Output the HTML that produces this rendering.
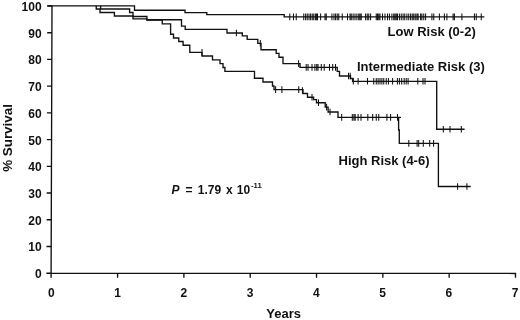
<!DOCTYPE html>
<html><head><meta charset="utf-8">
<style>
html,body{margin:0;padding:0;background:#fff;}
body{width:520px;height:320px;overflow:hidden;}
svg{display:block;will-change:transform;}
text{font-family:"Liberation Sans",sans-serif;font-weight:bold;font-size:12px;fill:#111;}
.t{font-size:13px;}
</style></head><body>
<svg width="520" height="320" viewBox="0 0 520 320">
<rect width="520" height="320" fill="#fff"/>
<g fill="none" stroke="#111" stroke-width="1.35">
<path d="M52,5.2L51.08,277.7M51.1,273.25L516.1,273.45"/>
<path d="M47.30,6.00H52.00 M47.21,32.72H51.91 M47.12,59.44H51.82 M47.03,86.16H51.73 M46.94,112.88H51.64 M46.85,139.60H51.55 M46.76,166.32H51.46 M46.67,193.04H51.37 M46.58,219.76H51.28 M46.49,246.48H51.19 M46.40,273.20H51.10"/>
<path d="M117.57,273.3V277.7 M183.89,273.3V277.7 M250.21,273.3V277.7 M316.53,273.3V277.7 M382.85,273.3V277.7 M449.17,273.3V277.7 M515.49,273.3V277.7"/>
<path d="M47.3,5.8 H134.5 V10.2 H185 V12.6 H206.8 V14.6 H284.2 V16.9 H484.4"/>
<path d="M100.6,5.8 V9 H129.6 V12.5 H133 V16.5 H146.9 V19.7 H181.5 V26.1 H185.2 V29.3 H227 V33 H242.3 V35.9 H247.2 V39.4 H257.8 V43.3 H261 V49.7 H276.2 V53.4 H279 V57.2 H283 V63.6 H300 V67.4 H337.2 V71.3 H339.5 V76 H350.5 V78.5 H352.6 V81.3 H436.7 V129.2 H464.6"/>
<path d="M96.25,5.8 V9 H100 V12.5 H114.4 V16 H133 V18.8 H146.9 V20.1 H162.25 V23.9 H170.6 V34.25 H173.5 V38 H178.75 V41.5 H183.1 V45.25 H189.8 V52.4 H202 V56 H212.5 V59.8 H220 V63.6 H223 V67.5 H224.9 V71.4 H254.5 V78.2 H263 V82 H272.5 V86 H274 V89.6 H303 V93.5 H307.5 V97.2 H313.6 V99.6 H316.5 V102.7 H325.2 V107.1 H328.1 V112 H338 V117.4 H398.6 V130 H399.3 V143.4 H438.4 V186.5 H470.7 M398.6,117.4 H401"/>
</g>
<g fill="none" stroke="#111" stroke-width="1.05">
<path d="M289.75,13.60V20.20 M293.50,13.60V20.20 M296.25,13.60V20.20 M303.75,13.60V20.20 M305.60,13.60V20.20 M307.25,13.60V20.20 M309.00,13.60V20.20 M310.60,13.60V20.20 M312.25,13.60V20.20 M313.75,13.60V20.20 M315.40,13.60V20.20 M316.60,13.60V20.20 M317.50,13.60V20.20 M320.60,13.60V20.20 M325.00,13.60V20.20 M326.25,13.60V20.20 M331.90,13.60V20.20 M334.00,13.60V20.20 M335.60,13.60V20.20 M337.25,13.60V20.20 M338.75,13.60V20.20 M342.25,13.60V20.20 M347.50,13.60V20.20 M350.00,13.60V20.20 M351.25,13.60V20.20 M353.10,13.60V20.20 M355.00,13.60V20.20 M356.90,13.60V20.20 M358.75,13.60V20.20 M360.00,13.60V20.20 M361.25,13.60V20.20 M365.60,13.60V20.20 M367.25,13.60V20.20 M368.75,13.60V20.20 M370.60,13.60V20.20 M376.25,13.60V20.20 M377.50,13.60V20.20 M378.75,13.60V20.20 M380.00,13.60V20.20 M382.50,13.60V20.20 M385.00,13.60V20.20 M387.50,13.60V20.20 M389.40,13.60V20.20 M391.90,13.60V20.20 M393.75,13.60V20.20 M395.00,13.60V20.20 M396.25,13.60V20.20 M397.50,13.60V20.20 M399.40,13.60V20.20 M401.25,13.60V20.20 M403.10,13.60V20.20 M404.75,13.60V20.20 M406.90,13.60V20.20 M408.75,13.60V20.20 M410.60,13.60V20.20 M412.25,13.60V20.20 M413.75,13.60V20.20 M415.25,13.60V20.20 M416.90,13.60V20.20 M418.10,13.60V20.20 M420.60,13.60V20.20 M421.90,13.60V20.20 M423.75,13.60V20.20 M425.60,13.60V20.20 M431.90,13.60V20.20 M433.75,13.60V20.20 M439.40,13.60V20.20 M444.40,13.60V20.20 M446.90,13.60V20.20 M453.10,13.60V20.20 M454.40,13.60V20.20 M461.90,13.60V20.20 M474.40,13.60V20.20 M476.25,13.60V20.20 M481.25,13.60V20.20"/>
<path d="M236.40,29.70V36.30 M260.30,40.00V46.60 M298.60,60.30V66.90 M306.20,64.10V70.70 M308.00,64.10V70.70 M312.00,64.10V70.70 M314.90,64.10V70.70 M316.70,64.10V70.70 M318.00,64.10V70.70 M321.30,64.10V70.70 M324.20,64.10V70.70 M329.50,64.10V70.70 M332.70,64.10V70.70 M335.50,64.10V70.70 M348.50,72.70V79.30 M350.20,72.70V79.30 M353.30,78.00V84.60 M358.10,78.00V84.60 M367.50,78.00V84.60 M373.75,78.00V84.60 M376.25,78.00V84.60 M378.10,78.00V84.60 M380.00,78.00V84.60 M381.90,78.00V84.60 M383.75,78.00V84.60 M386.25,78.00V84.60 M388.40,78.00V84.60 M392.60,78.00V84.60 M397.40,78.00V84.60 M399.40,78.00V84.60 M401.70,78.00V84.60 M404.20,78.00V84.60 M406.20,78.00V84.60 M408.10,78.00V84.60 M417.80,78.00V84.60 M423.00,78.00V84.60 M425.00,78.00V84.60 M443.30,125.90V132.50 M450.00,125.90V132.50 M461.30,125.90V132.50"/>
<path d="M202.00,49.10V55.70 M275.60,86.30V92.90 M281.90,86.30V92.90 M298.75,86.30V92.90 M302.40,87.20V93.80 M312.00,93.90V100.50 M318.50,99.40V106.00 M326.60,103.80V110.40 M330.00,108.70V115.30 M341.70,114.10V120.70 M352.30,114.10V120.70 M353.90,114.10V120.70 M355.20,114.10V120.70 M358.10,114.10V120.70 M361.00,114.10V120.70 M367.80,114.10V120.70 M372.70,114.10V120.70 M376.25,114.10V120.70 M378.75,114.10V120.70 M386.90,114.10V120.70 M390.60,114.10V120.70 M397.50,114.10V120.70 M408.80,140.10V146.70 M417.10,140.10V146.70 M418.70,140.10V146.70 M423.30,140.10V146.70 M429.70,140.10V146.70 M433.60,140.10V146.70 M457.60,183.20V189.80 M466.90,183.20V189.80"/>
</g>
<text x="41.6" y="10.90" text-anchor="end">100</text><text x="41.6" y="37.62" text-anchor="end">90</text><text x="41.6" y="64.34" text-anchor="end">80</text><text x="41.6" y="91.06" text-anchor="end">70</text><text x="41.6" y="117.78" text-anchor="end">60</text><text x="41.6" y="144.50" text-anchor="end">50</text><text x="41.6" y="171.22" text-anchor="end">40</text><text x="41.6" y="197.94" text-anchor="end">30</text><text x="41.6" y="224.66" text-anchor="end">20</text><text x="41.6" y="251.38" text-anchor="end">10</text><text x="41.6" y="278.10" text-anchor="end">0</text>
<text x="51.45" y="296.8" text-anchor="middle">0</text><text x="117.70" y="296.8" text-anchor="middle">1</text><text x="183.95" y="296.8" text-anchor="middle">2</text><text x="250.20" y="296.8" text-anchor="middle">3</text><text x="316.45" y="296.8" text-anchor="middle">4</text><text x="382.70" y="296.8" text-anchor="middle">5</text><text x="448.95" y="296.8" text-anchor="middle">6</text><text x="515.20" y="296.8" text-anchor="middle">7</text>
<text class="t" x="283.6" y="318.2" text-anchor="middle">Years</text>
<text class="t" style="font-size:13.4px" transform="translate(11.6,138) rotate(-90)" text-anchor="middle">% Survival</text>
<text class="t" x="387.6" y="36">Low Risk (0-2)</text>
<text class="t" x="356.9" y="71">Intermediate Risk (3)</text>
<text class="t" x="338.5" y="165">High Risk (4-6)</text>
<g style="font-size:12.3px"><text x="171.6" y="193.8" font-style="italic">P</text><text x="185.5" y="193.8">=</text><text x="197.8" y="193.8">1.79</text><text x="225.9" y="193.8">x</text><text x="236.8" y="193.8">10</text></g>
<text x="251" y="188.1" style="font-size:7.7px">-11</text>
</svg>
</body></html>
